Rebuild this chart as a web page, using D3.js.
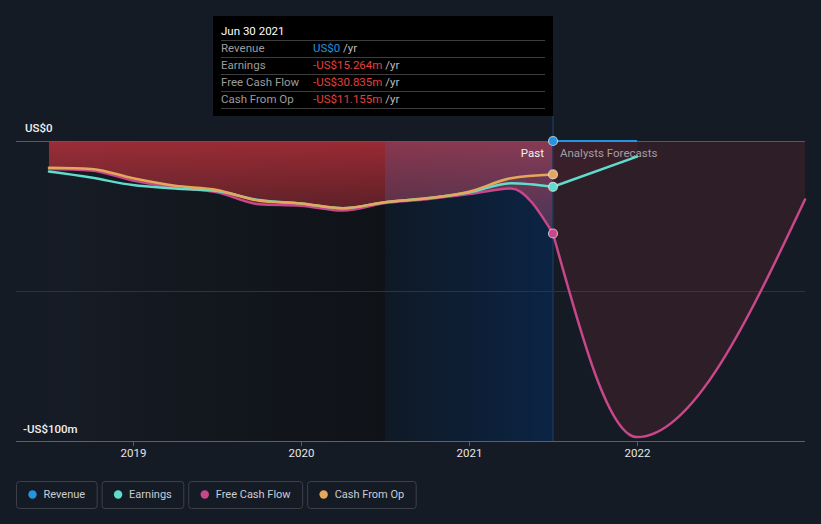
<!DOCTYPE html>
<html>
<head>
<meta charset="utf-8">
<script src="https://cdn.jsdelivr.net/npm/d3@7/dist/d3.min.js"></script>
<style>
  html, body { margin: 0; padding: 0; background: #151b24; }
  svg { display: block; font-family: Roboto, "Noto Sans", sans-serif; }
</style>
</head>
<body>
<svg id="chart" width="821" height="524"></svg>
<script>
// ---- data (US$ millions) ----
const pastDates = [2018.5, 2018.75, 2019, 2019.25, 2019.5, 2019.75, 2020, 2020.25, 2020.5, 2020.75, 2021, 2021.25, 2021.5];
const pastEarnings = [-10.2, -12.2, -14.7, -15.8, -16.7, -19.7, -20.8, -22.4, -20.4, -19.1, -17.2, -14.1, -15.264];
const pastFCF = [-9.3, -9.8, -13.2, -15.6, -17.1, -21.1, -21.6, -23.2, -20.7, -19.4, -17.7, -15.8, -30.835];
const pastCFO = [-8.9, -9.3, -12.4, -14.9, -16.3, -19.9, -20.8, -22.4, -20.4, -19.1, -16.9, -12.4, -11.155];

const revForecastDates = [2021.5, 2022];
const revForecast = [0, 0];
const earnForecastDates = [2021.5, 2022];
const earnForecast = [-15.264, -5.2];
const fcfForecastDates = [2021.5, 2022, 2023];
const fcfForecast = [-30.835, -98.7, -19.5];

const xTicks = [2019, 2020, 2021, 2022];
const yLabels = ["US$0", "-US$100m"];
const seriesNames = ["Revenue", "Earnings", "Free Cash Flow", "Cash From Op"];
const seriesColors = ["#2394df", "#5fdccb", "#c8468a", "#e3a85a"];
const tipTitle = "Jun 30 2021";
const tipValues = ["US$0", "-US$15.264m", "-US$30.835m", "-US$11.155m"];

// ---- scales ----
const svg = d3.select("#chart");
const x = d3.scaleLinear().domain([2018.3036, 2023]).range([16, 805]);
const y = d3.scaleLinear().domain([-100, 0]).range([441, 141]);
const zip = (ds, vs) => ds.map((d, i) => ({ t: d, v: vs[i] }));

const defs = svg.append("defs");
const gBg = defs.append("linearGradient").attr("id", "bgPast")
  .attr("gradientUnits", "userSpaceOnUse").attr("x1", x(2018.5)).attr("x2", x(2020.5)).attr("y1", 0).attr("y2", 0);
gBg.append("stop").attr("offset", 0).attr("stop-color", "#161c25");
gBg.append("stop").attr("offset", 1).attr("stop-color", "#0f1217");
const gBand = defs.append("linearGradient").attr("id", "bgBand")
  .attr("gradientUnits", "userSpaceOnUse").attr("x1", x(2020.5)).attr("x2", x(2021.5)).attr("y1", 0).attr("y2", 0);
gBand.append("stop").attr("offset", 0).attr("stop-color", "#0f1925");
gBand.append("stop").attr("offset", 1).attr("stop-color", "#0b2444");
const gArea = defs.append("linearGradient").attr("id", "areaPast")
  .attr("gradientUnits", "userSpaceOnUse").attr("x1", 0).attr("x2", 0).attr("y1", y(0)).attr("y2", y(-31));
gArea.append("stop").attr("offset", 0).attr("stop-color", "#c8323c").attr("stop-opacity", 0.75);
gArea.append("stop").attr("offset", 1).attr("stop-color", "#c8323c").attr("stop-opacity", 0.3);

// backgrounds
svg.append("rect").attr("x", x(2018.5)).attr("y", y(0)).attr("width", x(2020.5) - x(2018.5)).attr("height", y(-100) - y(0)).attr("fill", "url(#bgPast)");
svg.append("rect").attr("x", x(2020.5)).attr("y", y(0)).attr("width", x(2021.5) - x(2020.5)).attr("height", y(-100) - y(0)).attr("fill", "url(#bgBand)");

// gridline middle
svg.append("line").attr("x1", 16).attr("x2", 805).attr("y1", y(-50) + 0.5).attr("y2", y(-50) + 0.5)
  .attr("stroke", "#2e333d").attr("stroke-width", 1);

// areas
const area = d3.area().curve(d3.curveMonotoneX).x(d => x(d.t)).y0(y(0)).y1(d => y(d.v));
const pastAreaD = area(zip(pastDates, pastFCF));
svg.append("path").attr("d", pastAreaD).attr("fill", "url(#areaPast)");
defs.append("clipPath").attr("id", "pastClip").append("path").attr("d", pastAreaD);
svg.append("rect").attr("x", x(2020.5)).attr("y", y(0)).attr("width", x(2021.5) - x(2020.5)).attr("height", 120)
  .attr("fill", "#4a6ab0").attr("fill-opacity", 0.2).attr("clip-path", "url(#pastClip)");
svg.append("path").datum(zip(fcfForecastDates, fcfForecast)).attr("d", area).attr("fill", "#a83040").attr("fill-opacity", 0.17);
svg.append("path").datum(zip(earnForecastDates, earnForecast)).attr("d", area).attr("fill", "#a83040").attr("fill-opacity", 0.1);

// zero line and axis
svg.append("line").attr("x1", 16).attr("x2", 805).attr("y1", y(0) + 0.5).attr("y2", y(0) + 0.5)
  .attr("stroke", "#555a64").attr("stroke-width", 1);

const axis = svg.append("g").attr("transform", `translate(0,${y(-100)})`)
  .call(d3.axisBottom(x).tickValues(xTicks).tickFormat(d3.format("d")).tickSize(5).tickPadding(3));
axis.select(".domain").remove();
axis.selectAll(".tick line").attr("stroke", "#5b606a");
axis.selectAll(".tick text").attr("fill", "#e6e6e6").attr("font-size", 11.5).attr("font-family", "Roboto, sans-serif");
svg.append("line").attr("x1", 16).attr("x2", 805).attr("y1", y(-100) + 0.5).attr("y2", y(-100) + 0.5)
  .attr("stroke", "#5b606a").attr("stroke-width", 1);

svg.append("text").attr("x", 25).attr("y", y(0) - 9).text(yLabels[0])
  .attr("fill", "#f0f0f0").attr("font-size", 11.5).attr("font-weight", 500);
svg.append("text").attr("x", 23).attr("y", y(-100) - 8).text(yLabels[1])
  .attr("fill", "#f0f0f0").attr("font-size", 11.5).attr("font-weight", 500);

// vertical "now" line
svg.append("line").attr("x1", x(2021.5)).attr("x2", x(2021.5)).attr("y1", 116).attr("y2", y(-100))
  .attr("stroke", "#1c3558").attr("stroke-width", 1.5);

// Past / forecasts labels
svg.append("text").attr("x", x(2021.5) - 9).attr("y", 157).attr("text-anchor", "end")
  .text("Past").attr("fill", "#f2f2f2").attr("font-size", 11.5);
svg.append("text").attr("x", x(2021.5) + 7).attr("y", 157)
  .text("Analysts Forecasts").attr("fill", "#a49ea2").attr("font-size", 11.5);

// lines
const line = d3.line().curve(d3.curveMonotoneX).x(d => x(d.t)).y(d => y(d.v));
function drawLine(data, color) {
  svg.append("path").datum(data).attr("d", line).attr("fill", "none")
    .attr("stroke", color).attr("stroke-width", 2.5).attr("stroke-linecap", "round");
}
drawLine(zip(pastDates, pastFCF), seriesColors[2]);
drawLine(zip(fcfForecastDates, fcfForecast), seriesColors[2]);
drawLine(zip(pastDates, pastEarnings), seriesColors[1]);
drawLine(zip(earnForecastDates, earnForecast), seriesColors[1]);
drawLine(zip(pastDates, pastCFO), seriesColors[3]);
svg.append("path").datum(zip(revForecastDates, revForecast)).attr("d", line).attr("fill", "none")
  .attr("stroke", seriesColors[0]).attr("stroke-width", 2);

// dots at current date
const nowVals = [revForecast[0], pastEarnings[pastEarnings.length - 1], pastFCF[pastFCF.length - 1], pastCFO[pastCFO.length - 1]];
nowVals.forEach((v, i) => {
  svg.append("circle").attr("cx", x(2021.5)).attr("cy", y(v)).attr("r", 4.5)
    .attr("fill", seriesColors[i]).attr("stroke", "#e8e8e8").attr("stroke-opacity", 0.7).attr("stroke-width", 1.2);
});

// tooltip
const tip = svg.append("g");
tip.append("rect").attr("x", 213).attr("y", 16).attr("width", 340).attr("height", 100).attr("fill", "#000");
tip.append("text").attr("x", 221).attr("y", 35).text(tipTitle).attr("fill", "#ffffff").attr("font-size", 11.5);
[40.5, 57.5, 74.5, 91.5, 108.5].forEach(yy => {
  tip.append("line").attr("x1", 221).attr("x2", 545).attr("y1", yy).attr("y2", yy).attr("stroke", "#3d3d3d");
});
seriesNames.forEach((n, i) => {
  const by = 52 + i * 17;
  tip.append("text").attr("x", 221).attr("y", by).text(n).attr("fill", "#9c9c9c").attr("font-size", 11.5);
  const t = tip.append("text").attr("x", 313).attr("y", by).attr("font-size", 11.5);
  t.append("tspan").text(tipValues[i]).attr("fill", i === 0 ? "#2394df" : "#e5403f");
  t.append("tspan").text(" /yr").attr("fill", "#bdbdbd");
});

// legend
let lx = 16.5;
seriesNames.forEach((n, i) => {
  const g = svg.append("g");
  const txt = g.append("text").attr("x", lx + 27).attr("y", 498).text(n)
    .attr("fill", "#c9cdd3").attr("font-size", 11);
  const w = txt.node().getComputedTextLength() + 27 + 12;
  g.insert("rect", "text").attr("x", lx).attr("y", 481.5).attr("width", w).attr("height", 27).attr("rx", 3)
    .attr("fill", "none").attr("stroke", "#3b404b");
  g.append("circle").attr("cx", lx + 16).attr("cy", 494.5).attr("r", 4.2).attr("fill", seriesColors[i]);
  lx += w + 5;
});
</script>
</body>
</html>
